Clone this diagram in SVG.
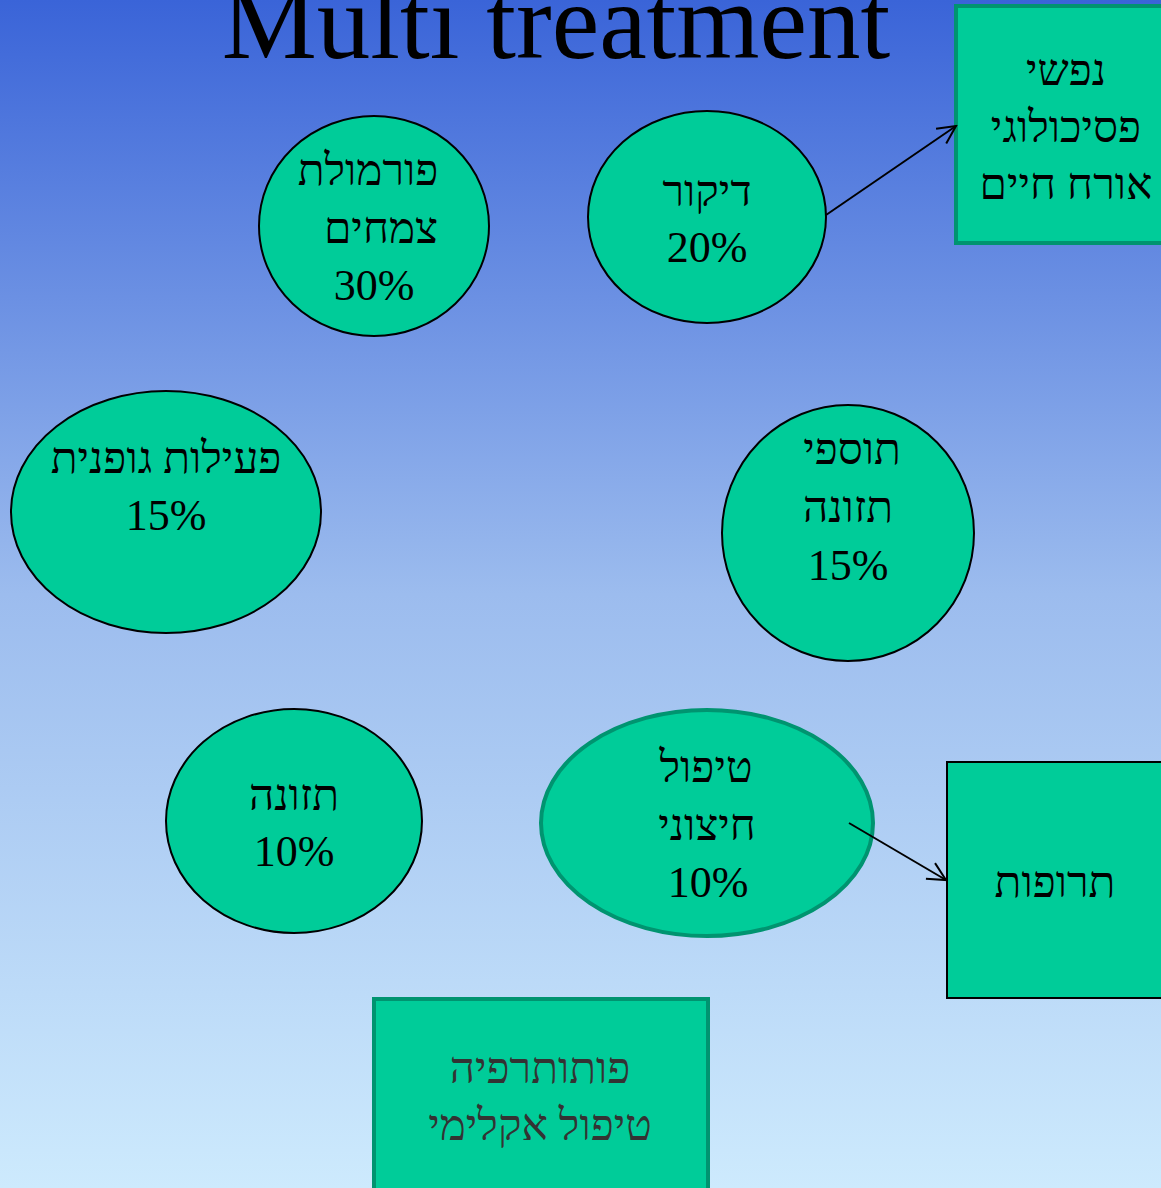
<svg xmlns="http://www.w3.org/2000/svg" width="1161" height="1188" viewBox="0 0 1161 1188">
<defs>
<linearGradient id="bg" x1="0" y1="0" x2="0" y2="1">
<stop offset="0" stop-color="#3a64d8"/>
<stop offset="0.5" stop-color="#9cbcee"/>
<stop offset="1" stop-color="#cdeafd"/>
</linearGradient>
<marker id="arr" viewBox="0 0 22 22" refX="20" refY="11" markerWidth="22" markerHeight="22" markerUnits="userSpaceOnUse" orient="auto">
<path d="M2,2 L20,11 L2,20" fill="none" stroke="#000" stroke-width="2"/>
</marker>
<style>
.n{fill:#00cc99;stroke:#000;stroke-width:2}
.g{fill:#00cc99;stroke:#009470;stroke-width:4}
.t{font-family:"Liberation Serif","Times New Roman",serif;font-size:44px;fill:#000;text-anchor:middle}
.d{fill:#333}
.c{stroke:#000;stroke-width:2;fill:none}
</style>
</defs>
<rect width="1161" height="1188" fill="url(#bg)"/>
<text x="556" y="58" font-family="Liberation Serif,serif" font-size="107" fill="#000" text-anchor="middle">Multi treatment</text>
<g id="n1"><ellipse class="n" cx="374" cy="226" rx="115" ry="110"/>
<text class="t" x="368" y="185">פורמולת</text><text class="t" x="381" y="243">צמחים</text><text class="t" x="374" y="300">30%</text></g>
<g id="n2"><ellipse class="n" cx="707" cy="217" rx="119" ry="106"/>
<text class="t" x="707" y="206">דיקור</text><text class="t" x="707" y="262">20%</text></g>
<g id="n3"><ellipse class="n" cx="166" cy="512" rx="155" ry="121"/>
<text class="t" x="166" y="473">פעילות גופנית</text><text class="t" x="166" y="530">15%</text></g>
<g id="n4"><ellipse class="n" cx="848" cy="533" rx="126" ry="128"/>
<text class="t" x="852" y="464">תוספי</text><text class="t" x="848" y="522">תזונה</text><text class="t" x="848" y="580">15%</text></g>
<g id="n5"><ellipse class="n" cx="294" cy="821" rx="128" ry="112"/>
<text class="t" x="294" y="810">תזונה</text><text class="t" x="294" y="866">10%</text></g>
<g id="n6"><ellipse class="g" cx="707" cy="823" rx="166" ry="113"/>
<text class="t" x="706" y="782">טיפול</text><text class="t" x="707" y="840">חיצוני</text><text class="t" x="708" y="897">10%</text></g>
<g id="n7"><rect class="g" x="956" y="6" width="210" height="237"/>
<text class="t" x="1066" y="85">נפשי</text><text class="t" x="1066" y="142">פסיכולוגי</text><text class="t" x="1066" y="199">אורח חיים</text></g>
<g id="n8"><rect class="n" x="947" y="762" width="220" height="236"/>
<text class="t" x="1055" y="897">תרופות</text></g>
<g id="n9"><rect class="g" x="374" y="999" width="334" height="200"/>
<text class="t d" x="540" y="1083">פותותרפיה</text><text class="t d" x="540" y="1140">טיפול אקלימי</text></g>
<g id="connectors">
<line class="c" x1="826" y1="215" x2="956" y2="126" marker-end="url(#arr)"/>
<line class="c" x1="849" y1="823" x2="946" y2="880" marker-end="url(#arr)"/>
</g>
</svg>
